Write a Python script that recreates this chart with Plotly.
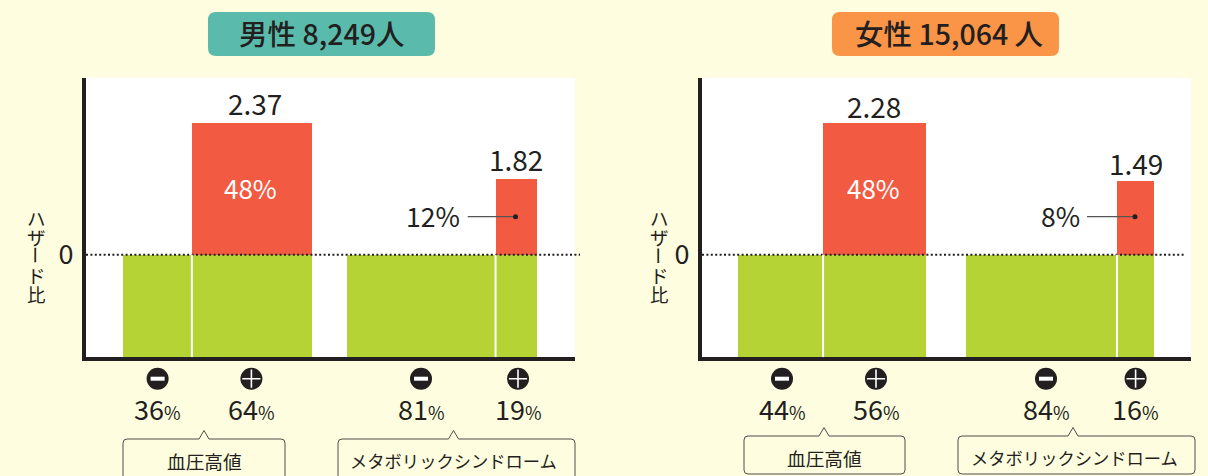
import plotly.graph_objects as go

# ---------- data ----------
titles = ["男性 8,249人", "女性 15,064 人"]
groups = ["血圧高値", "メタボリックシンドローム"]
# printed hazard ratios and shares
hazard_labels_m = ["2.37", "1.82"]
hazard_labels_f = ["2.28", "1.49"]
share_red_m = ["48%", "12%"]
share_red_f = ["48%", "8%"]
share_labels_m = ["36", "64", "81", "19"]
share_labels_f = ["44", "56", "84", "16"]
# drawn bar sizes (the source figure is schematic)
red_height_m = [13.17, 7.57]
red_height_f = [13.17, 7.37]
green_depth = 10.26
group_width_m = [[36.5, 63.5], [78.6, 21.9]]
group_width_f = [[45.3, 54.7], [80.3, 19.7]]
group_start_m = [19.5, 138.1]
group_start_f = [19.1, 140.4]
ylabel_chars = ["ハ", "ザ", "ー", "ド", "比"]

W, H = 1208, 476
BG, RED, GREEN, INK = "#FFFDDF", "#F25A41", "#B5D334", "#231F20"
FONT = "Noto Sans CJK JP"
TOP, ZERO, BOTTOM = 77.7, 254.7, 357.3


def px(x):
    return x / W


def py(y):
    return 1 - y / H


fig = go.Figure()
layout_axes = {}
shapes = []
annos = []


def text(x, y, s, size, color=INK, angle=0, weight=None):
    font = dict(family=FONT, size=size, color=color)
    if weight:
        font["weight"] = weight
    annos.append(dict(x=x, y=y, xref="x3", yref="y3", text=s, showarrow=False,
                      font=font, xanchor="center", yanchor="middle", textangle=angle,
                      borderpad=0))


def rounded(x0, y0, x1, y1, r, fill):
    path = (f"M{x0+r},{y0} L{x1-r},{y0} Q{x1},{y0} {x1},{y0+r} L{x1},{y1-r} Q{x1},{y1} {x1-r},{y1} "
            f"L{x0+r},{y1} Q{x0},{y1} {x0},{y1-r} L{x0},{y0+r} Q{x0},{y0} {x0+r},{y0} Z")
    shapes.append(dict(type="path", path=path, xref="x3", yref="y3", fillcolor=fill, line_width=0, layer="above"))


def callout(x0, x1, notch, top, bottom, r=4):
    tip = top - 8.5
    path = (f"M{x0},{bottom-r} L{x0},{top+r} Q{x0},{top} {x0+r},{top} L{notch-5},{top} L{notch},{tip} L{notch+5},{top} "
            f"L{x1-r},{top} Q{x1},{top} {x1},{top+r} L{x1},{bottom-r} Q{x1},{bottom} {x1-r},{bottom} "
            f"L{x0+r},{bottom} Q{x0},{bottom} {x0},{bottom-r}")
    shapes.append(dict(type="path", path=path, xref="x3", yref="y3", line=dict(color="#4D4D4D", width=1), layer="above"))


def panel(idx, dom, unit, starts, widths, reds, haz, share_red, shares,
          pill, pill_color, title_x, sign_x, hz_pos, big_x, small_pct, leader, ylab_x, callouts, callout_top, callout_bottom, title):
    xn, yn = ("x", "y") if idx == 1 else ("x2", "y2")
    xk, yk = ("xaxis", "yaxis") if idx == 1 else ("xaxis2", "yaxis2")
    green_x, green_w, red_x, red_w = [], [], [], []
    for s, (a, b) in zip(starts, widths):
        green_x += [s + a / 2, s + a + b / 2]
        green_w += [a, b]
        red_x.append(s + a + b / 2)
        red_w.append(b)
        shapes.append(dict(type="line", xref=xn, yref=yn, x0=s + a, x1=s + a, y0=-green_depth, y1=0,
                           line=dict(color="white", width=2), layer="above"))
    fig.add_trace(go.Bar(x=green_x, y=[-green_depth] * 4, width=green_w, marker=dict(color=GREEN, line_width=0),
                         xaxis=xn, yaxis=yn, hoverinfo="skip", showlegend=False))
    fig.add_trace(go.Bar(x=red_x, y=reds, width=red_w, marker=dict(color=RED, line_width=0),
                         xaxis=xn, yaxis=yn, hoverinfo="skip", showlegend=False))
    layout_axes[xk] = dict(domain=[px(dom[0]), px(dom[1])], range=[0, (dom[1] - dom[0]) / unit], showgrid=False,
                           zeroline=False, showticklabels=False, ticks="", showline=True, linecolor=INK, linewidth=4,
                           fixedrange=True, anchor=yn)
    layout_axes[yk] = dict(domain=[py(BOTTOM), py(TOP)], range=[-green_depth, (ZERO - TOP) / 10], showgrid=False,
                           zeroline=False, tickvals=[0], ticktext=["0"], ticks="", ticklabelstandoff=3,
                           tickfont=dict(family=FONT, size=27, color=INK), showline=True, linecolor=INK, linewidth=4,
                           fixedrange=True, anchor=xn)
    shapes.append(dict(type="rect", xref="paper", yref="paper", x0=px(dom[0]), x1=px(dom[1]), y0=py(BOTTOM), y1=py(TOP),
                       fillcolor="white", line_width=0, layer="below"))
    # dotted zero line
    fig.add_trace(go.Scatter(x=[dom[0], dom[2]], y=[ZERO, ZERO], mode="lines", xaxis="x3", yaxis="y3",
                             line=dict(color=INK, width=2, dash="2px,2.4px"), hoverinfo="skip", showlegend=False))
    # title pill
    rounded(pill[0], 12, pill[1], 56, 8, pill_color)
    text(title_x, 32, title, 28.5, weight=500)
    # hazard labels
    for (x, y), s in zip(hz_pos, haz):
        text(x, y - 1.5, s, 28)
    text(big_x, 187.2, share_red[0], 26, color="white")
    text(small_pct, 215.7, share_red[1], 26.5)
    # leader line
    fig.add_trace(go.Scatter(x=leader, y=[216.7, 216.7], mode="lines", xaxis="x3", yaxis="y3",
                             line=dict(color="#555555", width=1.2), hoverinfo="skip", showlegend=False))
    fig.add_trace(go.Scatter(x=[leader[1]], y=[216.7], mode="markers", xaxis="x3", yaxis="y3",
                             marker=dict(color=INK, size=5), hoverinfo="skip", showlegend=False))
    # sign badges
    fig.add_trace(go.Scatter(x=sign_x, y=[378.7] * 4, mode="markers", xaxis="x3", yaxis="y3",
                             marker=dict(color=INK, size=22), hoverinfo="skip", showlegend=False))
    minus_x, plus_x = [sign_x[0], sign_x[2]], [sign_x[1], sign_x[3]]
    fig.add_trace(go.Scatter(x=minus_x, y=[378.7] * 2, mode="markers", xaxis="x3", yaxis="y3",
                             marker=dict(symbol="line-ew", size=10, line=dict(color="white", width=4)),
                             hoverinfo="skip", showlegend=False))
    fig.add_trace(go.Scatter(x=plus_x, y=[378.7] * 2, mode="markers", xaxis="x3", yaxis="y3",
                             marker=dict(symbol="cross-thin", size=13, line=dict(color="white", width=1.6)),
                             hoverinfo="skip", showlegend=False))
    for x, s in zip(sign_x, shares):
        text(x, 408.5, f"{s}<span style='font-size:18px'>%</span>", 27)
    # vertical axis label
    for i, ch in enumerate(ylabel_chars):
        text(ylab_x, 217.5 + i * 19, ch, 18.5, angle=90 if ch == "ー" else 0)
    # callouts
    for (x0, x1, nx, tx), g, sz in zip(callouts, groups, (18.7, 17.3)):
        callout(x0, x1, nx, callout_top, callout_bottom)
        text(tx, callout_top + 21, g, sz)


panel(1, (86, 575, 580), 1.89, group_start_m, group_width_m, red_height_m, hazard_labels_m, share_red_m, share_labels_m,
      (208, 435), "#5ABBAD", 321, [157.6, 251.4, 421, 518], [(255, 104.7), (515.5, 160.7)], 250.7, 432.5, [467.7, 515.5], 36.7,
      [(123, 285, 204, 204), (338, 575, 453.5, 453.5)], 439, 490, titles[0])
panel(2, (702, 1191, 1186), 1.88, group_start_f, group_width_f, red_height_f, hazard_labels_f, share_red_f, share_labels_f,
      (832, 1059), "#FA9447", 949, [782, 876, 1046, 1135.6], [(874, 107), (1135.6, 164)], 873.5, 1060.6, [1087, 1135], 659,
      [(744, 905, 824, 824), (958, 1195, 1073, 1074)], 436, 474, titles[1])

layout_axes["xaxis3"] = dict(domain=[0, 1], range=[0, W], visible=False, fixedrange=True, anchor="y3")
layout_axes["yaxis3"] = dict(domain=[0, 1], range=[H, 0], visible=False, fixedrange=True, anchor="x3")

fig.update_layout(width=W, height=H, margin=dict(l=0, r=0, t=0, b=0), paper_bgcolor=BG, plot_bgcolor="rgba(0,0,0,0)",
                  barmode="overlay", bargap=0, showlegend=False, shapes=shapes, annotations=annos,
                  font=dict(family=FONT, color=INK), **layout_axes)
fig.write_html("out.html", config=dict(displayModeBar=False),
               post_script="document.body.style.margin='0';document.body.style.overflow='hidden';"
                           "document.body.style.background='" + BG + "';")
